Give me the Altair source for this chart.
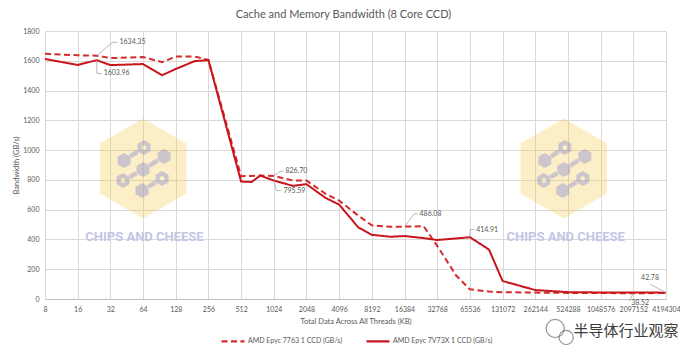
import math
import altair as alt
import pandas as pd

# ---------------- data ----------------
series_names = ["AMD Epyc 7763 1 CCD (GB/s)", "AMD Epyc 7V73X 1 CCD (GB/s)"]

sizes_7763 = [8, 16, 24, 32, 64, 96, 128, 192, 256, 512, 640, 768, 1024, 1536, 2048,
              3072, 4096, 6144, 8192, 12288, 16384, 24576, 32768, 49152, 65536, 98304,
              131072, 262144, 524288, 1048576, 2097152, 4194304]
bw_7763 = [1647, 1637, 1634.35, 1618, 1625, 1591, 1628, 1628, 1606, 825, 826, 829, 826.70,
           796, 796, 706, 661, 560, 495, 485, 486.08, 489, 357, 156, 65, 50,
           46, 43, 41, 40, 38.52, 40]

sizes_7v73x = [8, 16, 24, 32, 64, 96, 128, 192, 256, 512, 640, 768, 1024, 1536, 2048,
               3072, 4096, 6144, 8192, 12288, 16384, 24576, 32768, 65536, 98304,
               131072, 262144, 524288, 1048576, 2097152, 4194304]
bw_7v73x = [1612, 1572, 1603.96, 1571, 1578, 1503, 1545, 1598, 1604, 789, 786, 829, 795.59,
            760, 771, 679, 634, 481, 431, 418, 423, 409, 396, 414.91, 332,
            121, 60, 46, 44, 43, 42.78]

x_ticks = [8, 16, 32, 64, 128, 256, 512, 1024, 2048, 4096, 8192, 16384, 32768, 65536,
           131072, 262144, 524288, 1048576, 2097152, 4194304]
y_ticks = [0, 200, 400, 600, 800, 1000, 1200, 1400, 1600, 1800]

# data-label annotations (value labels with leader lines)
ann_text = ["1634.35", "1603.96", "826.70", "795.59", "486.08", "414.91", "42.78", "38.52"]
ann_x = [24, 24, 1024, 1024, 16384, 65536, 4194304, 2097152]
ann_y = [1634.35, 1603.96, 826.70, 795.59, 486.08, 414.91, 42.78, 38.52]
ann_elbow_x = [33.5, 24, 1172, 1084, 20144, 65940, 2980000, 1919000]
ann_elbow_y = [1724, 1515, 858, 728, 572, 466, 100, -14]
ann_end_x = [37.2, 26.6, 1256, 1204, 21590, 71750, 2980000, 1919000]
ann_end_y = [1724, 1515, 858, 728, 572, 466, 100, -14]
ann_label_x = [37.2, 26.6, 1256, 1204, 21590, 71750, 2370000, 1919000]
ann_label_y = [1724, 1515, 858, 728, 572, 466, 143, -26]

# watermark logos
logo_x = [64, 480000]
logo_y = [876, 876]
logo_text_x = [66, 500000]
logo_text_y = [419, 419]
logo_text = ["CHIPS AND CHEESE", "CHIPS AND CHEESE"]

# site watermark
wm_text = ["半导体行业观察"]
wm_x = [1800000]
wm_y = [-218]
wm_icon_x = [400000, 505000]
wm_icon_y = [-198, -258]
wm_icon_size = [330, 200]

# ---------------- shapes (style only) ----------------
def orient(pts, sign):
    a = 0
    for i in range(len(pts)):
        x1, y1 = pts[i]
        x2, y2 = pts[(i + 1) % len(pts)]
        a += x1 * y2 - x2 * y1
    if (a > 0) != (sign > 0):
        pts = pts[::-1]
    return pts

def hexagon(cx, cy, r):
    return [(cx + r * math.sin(math.radians(a)), cy - r * math.cos(math.radians(a)))
            for a in range(0, 360, 60)]

def bar(p1, p2, w, shrink):
    dx, dy = p2[0] - p1[0], p2[1] - p1[1]
    L = math.hypot(dx, dy)
    ux, uy = dx / L, dy / L
    a = (p1[0] + ux * shrink, p1[1] + uy * shrink)
    b = (p2[0] - ux * shrink, p2[1] - uy * shrink)
    nx, ny = -uy * w / 2, ux * w / 2
    return [(a[0] + nx, a[1] + ny), (b[0] + nx, b[1] + ny),
            (b[0] - nx, b[1] - ny), (a[0] - nx, a[1] - ny)]

def to_path(polys, unit):
    s = ""
    for p in polys:
        s += "M" + "L".join(f"{x / unit:.3f},{y / unit:.3f}" for x, y in p) + "Z"
    return s

UNIT = 50.0
big_hex = to_path([hexagon(0, 0, 50)], UNIT)

nodes = {"a": (1, -21), "g": (-19, -8), "b": (21, -12), "c": (0, 1), "d": (-20, 12),
         "e": (19, 10), "f": (-1, 22)}
dotted = ["a", "d", "e"]
links = [("g", "a"), ("b", "c"), ("c", "d"), ("e", "f")]
icon_polys = []
for k, (cx, cy) in nodes.items():
    icon_polys.append(orient(hexagon(cx, cy, 7.5), 1))
    if k in dotted:
        icon_polys.append(orient(hexagon(cx, cy, 2.6), -1))
for a, b in links:
    icon_polys.append(orient(bar(nodes[a], nodes[b], 4.5, 7.5), 1))
icon_path = to_path(icon_polys, UNIT)

# ---------------- tables ----------------
df = pd.concat([
    pd.DataFrame({"size": sizes_7763, "bw": bw_7763, "series": series_names[0]}),
    pd.DataFrame({"size": sizes_7v73x, "bw": bw_7v73x, "series": series_names[1]}),
])

lead_rows = []
for i in range(len(ann_text)):
    lead_rows += [
        {"id": i, "o": 0, "size": ann_x[i], "bw": ann_y[i]},
        {"id": i, "o": 1, "size": ann_elbow_x[i], "bw": ann_elbow_y[i]},
        {"id": i, "o": 2, "size": ann_end_x[i], "bw": ann_end_y[i]},
    ]
df_lead = pd.DataFrame(lead_rows)
df_lab = pd.DataFrame({"size": ann_label_x, "bw": ann_label_y, "t": ann_text})
df_logo = pd.DataFrame({"size": logo_x, "bw": logo_y})
df_logo_t = pd.DataFrame({"size": logo_text_x, "bw": logo_text_y, "t": logo_text})
df_wm = pd.DataFrame({"size": wm_x, "bw": wm_y, "t": wm_text})
df_wm_icon = pd.DataFrame({"size": wm_icon_x, "bw": wm_icon_y, "s": wm_icon_size})

FONT = "Lato"
GREY = "#595959"

xscale = alt.Scale(type="log", base=2, domain=[8, 4194304], nice=False)
yscale = alt.Scale(domain=[0, 1800], nice=False)
xaxis = alt.Axis(values=x_ticks, format="d", labelFlush=False, labelOverlap=False,
                 ticks=False, labelPadding=6, grid=True, titlePadding=5)
yaxis = alt.Axis(values=y_ticks, format="d", ticks=False, labelPadding=6, grid=True,
                 titlePadding=2, domain=False)
XT = "Total Data Across All Threads (KB)"
YT = "Bandwidth (GB/s)"

def X():
    return alt.X("size:Q", scale=xscale, title=XT, axis=xaxis)

def Y():
    return alt.Y("bw:Q", scale=yscale, title=YT, axis=yaxis)

legend = alt.Legend(
    title=None, orient="none", legendX=175, legendY=297, direction="horizontal",
    symbolType="stroke", symbolSize=529, symbolStrokeWidth=2.2,
    labelFontSize=7, labelColor=GREY, labelFont=FONT, columnPadding=19,
    labelOffset=2, padding=0,
)

lines = alt.Chart(df).mark_line(strokeWidth=2).encode(
    x=X(), y=Y(),
    color=alt.Color("series:N", scale=alt.Scale(domain=series_names,
                                                range=["#d42a2a", "#c8141b"]), legend=legend),
    strokeDash=alt.StrokeDash("series:N", scale=alt.Scale(domain=series_names,
                                                          range=[[6, 3.5], [1, 0]]), legend=legend),
)

logo_hex = alt.Chart(df_logo).mark_point(
    shape=big_hex, size=10000, filled=True, color="#f5c842", opacity=0.3, strokeWidth=0
).encode(x=X(), y=Y())

logo_icon = alt.Chart(df_logo).mark_point(
    shape=icon_path, size=10000, filled=True, color="#7d87d8", opacity=0.38, strokeWidth=0
).encode(x=X(), y=Y())

logo_txt = alt.Chart(df_logo_t).mark_text(
    font="Roboto", fontWeight="bold", fontSize=13, color="#c3c6e4", baseline="middle"
).encode(x=X(), y=Y(), text="t:N")

leaders = alt.Chart(df_lead).mark_line(color="#a6a6a6", strokeWidth=0.8).encode(
    x=X(), y=Y(), detail="id:N", order="o:Q")

labels = alt.Chart(df_lab).mark_text(
    align="left", baseline="middle", dx=2, fontSize=7, font=FONT, color=GREY
).encode(x=X(), y=Y(), text="t:N")

wm = alt.Chart(df_wm).mark_text(
    font="Noto Sans CJK SC", fontSize=15, color="#3c3c3c", baseline="middle", align="center"
).encode(x=X(), y=Y(), text="t:N")

wm_icon = alt.Chart(df_wm_icon).mark_point(
    shape="circle", filled=False, color="#6a6a6a", strokeWidth=1.2
).encode(x=X(), y=Y(), size=alt.Size("s:Q", scale=None, legend=None))

chart = alt.layer(logo_hex, logo_icon, logo_txt, lines, leaders, labels, wm, wm_icon).properties(
    width=621, height=268,
    title=alt.TitleParams("Cache and Memory Bandwidth (8 Core CCD)", fontSize=11, font=FONT,
                          fontWeight="normal", color=GREY, anchor="middle", dx=-12, offset=7),
    autosize=alt.AutoSizeParams(type="none"),
    padding={"left": 37, "top": 23, "right": 14, "bottom": 48},
).configure_view(stroke=None).configure_axis(
    labelFont=FONT, labelFontSize=7, labelColor=GREY, titleFont=FONT, titleFontSize=7.5,
    titleColor=GREY, titleFontWeight="normal", gridColor="#d9d9d9", gridWidth=1,
    domainColor="#bfbfbf",
)

chart.save("out.html", embed_options={"renderer": "svg", "actions": False})
